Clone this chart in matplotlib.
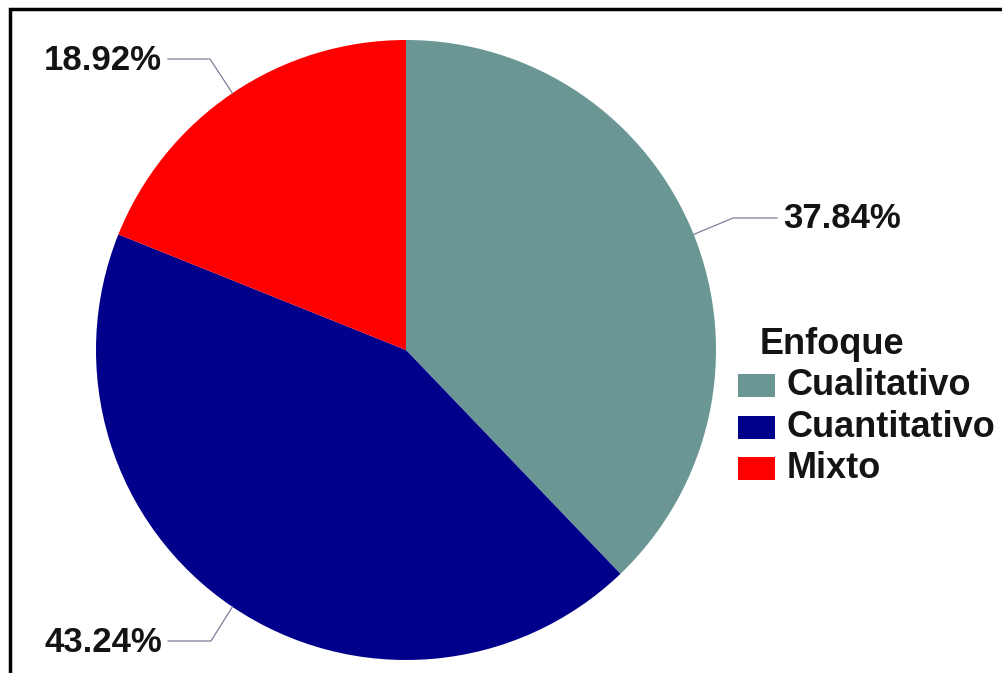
import matplotlib.pyplot as plt
import matplotlib.patches as mpatches
import numpy as np

plt.rcParams['font.family'] = ['Liberation Sans', 'DejaVu Sans']

categories = ['Cualitativo', 'Cuantitativo', 'Mixto']
percentages = [37.84, 43.24, 18.92]
colors = ['#6a9794', '#00008b', '#ff0000']
legend_title = 'Enfoque'

W, H = 1003, 673
fig = plt.figure(figsize=(W / 100, H / 100), dpi=100)
ax = fig.add_axes([0, 0, 1, 1])

cx, cy, r = 406, H - 350, 310
wedges, _ = ax.pie(percentages, colors=colors, startangle=90, counterclock=False,
                   center=(cx, cy), radius=r,
                   wedgeprops=dict(linewidth=0, edgecolor='none'))

# leader lines, one per wedge: (elbow point, end x, text side)
leaders = [((733, 218), 777, 'left'),
           ((211, 641), 168, 'right'),
           ((210, 59), 168, 'right')]
for w, pct, (elbow, end_x, side) in zip(wedges, percentages, leaders):
    mid = np.deg2rad((w.theta1 + w.theta2) / 2)
    x0, y0 = cx + r * np.cos(mid), cy + r * np.sin(mid)
    ex, ey = elbow[0], H - elbow[1]
    ax.plot([x0, ex, end_x], [y0, ey, ey], color='#7f7f99', lw=0.9)
    tx = end_x + 6 if side == 'left' else end_x - 6
    ax.text(tx, ey - 1, f'{pct:.2f}%', ha=side, va='center', fontsize=25,
            fontweight='bold', color='#141414')

# legend drawn by hand
ax.text(760, H - 345, legend_title, ha='left', va='center', fontsize=26,
        fontweight='bold', color='#141414')
row_y = [385.5, 427.5, 468]
for name, col, yy in zip(categories, colors, row_y):
    ax.add_patch(mpatches.Rectangle((738, H - yy - 11.5), 37, 23, facecolor=col,
                                    edgecolor='none'))
    ax.text(787, H - yy, name, ha='left', va='center', fontsize=26,
            fontweight='bold', color='#141414')

# frame
ax.add_patch(mpatches.Rectangle((10, -20), 1020, H - 9 + 20, fill=False,
                                edgecolor='black', lw=2.5))

ax.set_xlim(0, W)
ax.set_ylim(0, H)
ax.set_aspect('equal')
ax.axis('off')
fig.savefig('out.png', dpi=100, facecolor='white')
